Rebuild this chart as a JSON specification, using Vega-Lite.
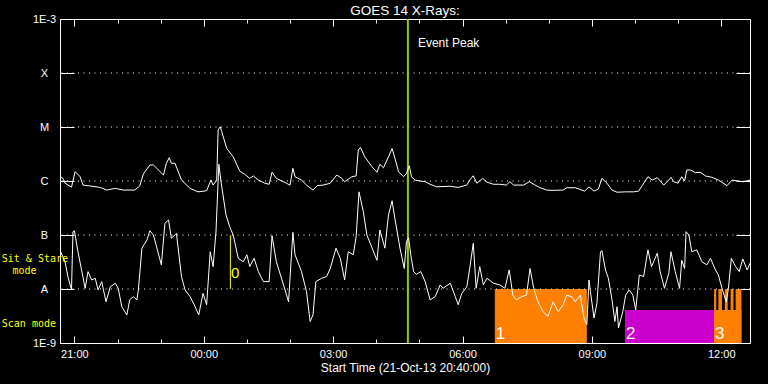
{
  "$schema": "https://vega.github.io/schema/vega-lite/v6.json",
  "width": 690,
  "height": 324,
  "autosize": "none",
  "padding": {"left": 60, "top": 19, "right": 18, "bottom": 41},
  "background": "black",
  "title": {"text": "GOES 14 X-Rays:", "color": "white", "font": "Liberation Sans", "fontSize": 13.5, "fontWeight": "normal", "anchor": "middle", "frame": "group", "offset": -4},
  "config": {
    "view": {"stroke": "white", "strokeWidth": 1}
  },
  "layer": [
    {
      "data": {"values": [
        {"t1":"2013-10-22T06:45","t2":"2013-10-22T08:53","lo":1e-9,"hi":1e-8,"c":"#ff8000"},
        {"t1":"2013-10-22T09:46","t2":"2013-10-22T11:50","lo":1e-9,"hi":4.08e-9,"c":"#cc00cc"},
        {"t1":"2013-10-22T11:50","t2":"2013-10-22T12:28","lo":1e-9,"hi":4.08e-9,"c":"#ff8000"},
        {"t1":"2013-10-22T11:50","t2":"2013-10-22T11:53","lo":1e-9,"hi":1e-8,"c":"#ff8000"},
        {"t1":"2013-10-22T11:56","t2":"2013-10-22T12:01","lo":1e-9,"hi":1e-8,"c":"#ff8000"},
        {"t1":"2013-10-22T12:05","t2":"2013-10-22T12:09","lo":1e-9,"hi":1e-8,"c":"#ff8000"},
        {"t1":"2013-10-22T12:13","t2":"2013-10-22T12:17","lo":1e-9,"hi":1e-8,"c":"#ff8000"},
        {"t1":"2013-10-22T12:20","t2":"2013-10-22T12:28","lo":1e-9,"hi":1e-8,"c":"#ff8000"}
      ]},
      "mark": {"type": "rect"},
      "encoding": {
        "x": {"field": "t1", "type": "temporal",
          "scale": {"domain": [{"year":2013,"month":10,"date":21,"hours":20,"minutes":40},{"year":2013,"month":10,"date":22,"hours":12,"minutes":40}], "nice": false},
          "axis": {"orient": "bottom", "offset": -7,
            "values": [{"year":2013,"month":10,"date":21,"hours":21},{"year":2013,"month":10,"date":21,"hours":22},{"year":2013,"month":10,"date":21,"hours":23},{"year":2013,"month":10,"date":22,"hours":0},{"year":2013,"month":10,"date":22,"hours":1},{"year":2013,"month":10,"date":22,"hours":2},{"year":2013,"month":10,"date":22,"hours":3},{"year":2013,"month":10,"date":22,"hours":4},{"year":2013,"month":10,"date":22,"hours":5},{"year":2013,"month":10,"date":22,"hours":6},{"year":2013,"month":10,"date":22,"hours":7},{"year":2013,"month":10,"date":22,"hours":8},{"year":2013,"month":10,"date":22,"hours":9},{"year":2013,"month":10,"date":22,"hours":10},{"year":2013,"month":10,"date":22,"hours":11},{"year":2013,"month":10,"date":22,"hours":12}],
            "labelExpr": "hours(datum.value) % 3 == 0 ? timeFormat(datum.value, '%H:%M') : ''",
            "tickSize": 7,
            "tickDash": {"condition": {"test": "hours(datum.value) % 3 == 0", "value": [10, 0]}, "value": [0, 3, 4, 100]},
            "tickColor": "white", "domain": false, "grid": false,
            "labelColor": "white", "labelFont": "Liberation Sans", "labelFontSize": 11, "labelPadding": 5,
            "labelFlush": false, "labelOverlap": false,
            "title": "Start Time (21-Oct-13 20:40:00)", "titleColor": "white", "titleFont": "Liberation Sans",
            "titleFontSize": 12, "titleFontWeight": "normal", "titlePadding": 3}},
        "x2": {"field": "t2"},
        "y": {"field": "lo", "type": "quantitative",
          "scale": {"type": "log", "domain": [1e-9, 1e-3], "nice": false},
          "axis": {"orient": "left", "offset": -14, "values": [1e-9, 1e-8, 1e-7, 1e-6, 1e-5, 1e-4, 1e-3],
            "labelExpr": "datum.value < 3e-9 ? '1E-9' : datum.value < 3e-8 ? 'A' : datum.value < 3e-7 ? 'B' : datum.value < 3e-6 ? 'C' : datum.value < 3e-5 ? 'M' : datum.value < 3e-4 ? 'X' : '1E-3'",
            "tickSize": 14, "tickColor": "white", "domain": false, "grid": false,
            "labelColor": "white", "labelFont": "Liberation Sans", "labelFontSize": 11,
            "labelAlign": "center", "labelBaseline": "middle", "labelPadding": 16,
            "labelFlush": false, "labelOverlap": false, "title": null}},
        "y2": {"field": "hi"},
        "color": {"field": "c", "type": "nominal", "scale": null, "legend": null}
      }
    },
    {
      "data": {"values": [{"v": 1e-8}, {"v": 1e-7}, {"v": 1e-6}, {"v": 1e-5}, {"v": 1e-4}]},
      "mark": {"type": "rule", "color": "white", "strokeWidth": 1, "strokeDash": [1, 4.5]},
      "encoding": {
        "y": {"field": "v", "type": "quantitative", "axis": null}
      }
    },
    {
      "data": {"values": [
        {"t":"2013-10-22T06:45","label":"1"},
        {"t":"2013-10-22T09:46","label":"2"},
        {"t":"2013-10-22T11:50","label":"3"}
      ]},
      "mark": {"type": "text", "color": "white", "font": "Liberation Sans", "fontSize": 17, "align": "left", "baseline": "alphabetic", "dx": 1},
      "encoding": {
        "x": {"field": "t", "type": "temporal", "axis": null},
        "y": {"datum": 1.19e-9, "type": "quantitative", "axis": null},
        "text": {"field": "label"}
      }
    },
    {
      "data": {"values": [{"t": "2013-10-22T00:37", "lo": 1e-8, "hi": 1e-7}]},
      "mark": {"type": "rule", "color": "#ffff00", "strokeWidth": 1},
      "encoding": {
        "x": {"field": "t", "type": "temporal", "axis": null},
        "y": {"field": "lo", "type": "quantitative", "axis": null},
        "y2": {"field": "hi"}
      }
    },
    {
      "data": {"values": [{"t": "2013-10-22T00:38", "v": 2.0e-8, "text": "0"}]},
      "mark": {"type": "text", "color": "#ffff00", "font": "Liberation Sans", "fontSize": 15, "align": "left", "baseline": "middle"},
      "encoding": {
        "x": {"field": "t", "type": "temporal", "axis": null},
        "y": {"field": "v", "type": "quantitative", "axis": null},
        "text": {"field": "text"}
      }
    },
    {
      "data": {"values": [{"t": "2013-10-22T04:44"}]},
      "mark": {"type": "rule", "color": "#99cc00", "strokeWidth": 2},
      "encoding": {
        "x": {"field": "t", "type": "temporal", "axis": null}
      }
    },
    {
      "data": {"values": [{"t": "2013-10-22T04:58", "v": 3.64e-4, "text": "Event Peak"}]},
      "mark": {"type": "text", "color": "white", "font": "Liberation Sans", "fontSize": 12, "align": "left", "baseline": "middle"},
      "encoding": {
        "x": {"field": "t", "type": "temporal", "axis": null},
        "y": {"field": "v", "type": "quantitative", "axis": null},
        "text": {"field": "text"}
      }
    },
    {
      "data": {"values": [
      {"t":"2013-10-21T20:41","b":"L","f":1.17e-6},{"t":"2013-10-21T20:44","b":"L","f":1.12e-6},{"t":"2013-10-21T20:47","b":"L","f":9.1e-7},{"t":"2013-10-21T20:56","b":"L","f":7.7e-7},{"t":"2013-10-21T21:01","b":"L","f":1.49e-6},{"t":"2013-10-21T21:08","b":"L","f":1.2e-6},{"t":"2013-10-21T21:12","b":"L","f":8.4e-7},{"t":"2013-10-21T21:22","b":"L","f":8.1e-7},{"t":"2013-10-21T21:36","b":"L","f":7.6e-7},{"t":"2013-10-21T21:45","b":"L","f":6.8e-7},{"t":"2013-10-21T21:57","b":"L","f":7.3e-7},{"t":"2013-10-21T22:08","b":"L","f":6.8e-7},{"t":"2013-10-21T22:24","b":"L","f":6.8e-7},{"t":"2013-10-21T22:31","b":"L","f":8.1e-7},{"t":"2013-10-21T22:36","b":"L","f":1.35e-6},{"t":"2013-10-21T22:45","b":"L","f":1.98e-6},{"t":"2013-10-21T22:50","b":"L","f":1.98e-6},{"t":"2013-10-21T23:04","b":"L","f":1.29e-6},{"t":"2013-10-21T23:08","b":"L","f":2.13e-6},{"t":"2013-10-21T23:12","b":"L","f":2.7e-6},{"t":"2013-10-21T23:15","b":"L","f":2.13e-6},{"t":"2013-10-21T23:20","b":"L","f":2.13e-6},{"t":"2013-10-21T23:29","b":"L","f":1.04e-6},{"t":"2013-10-21T23:41","b":"L","f":7.3e-7},{"t":"2013-10-21T23:52","b":"L","f":6.3e-7},
      {"t":"2013-10-22T00:04","b":"L","f":6.6e-7},{"t":"2013-10-22T00:10","b":"L","f":1.04e-6},{"t":"2013-10-22T00:13","b":"L","f":8.4e-7},{"t":"2013-10-22T00:18","b":"L","f":1.04e-6},{"t":"2013-10-22T00:20","b":"L","f":8.8e-6},{"t":"2013-10-22T00:23","b":"L","f":1.01e-5},{"t":"2013-10-22T00:25","b":"L","f":8.2e-6},{"t":"2013-10-22T00:32","b":"L","f":4.0e-6},{"t":"2013-10-22T00:41","b":"L","f":2.8e-6},{"t":"2013-10-22T00:50","b":"L","f":1.53e-6},{"t":"2013-10-22T00:57","b":"L","f":1.33e-6},{"t":"2013-10-22T01:04","b":"L","f":1.12e-6},{"t":"2013-10-22T01:09","b":"L","f":1.24e-6},{"t":"2013-10-22T01:16","b":"L","f":1.04e-6},{"t":"2013-10-22T01:25","b":"L","f":9.1e-7},{"t":"2013-10-22T01:31","b":"L","f":8.7e-7},{"t":"2013-10-22T01:35","b":"L","f":1.45e-6},{"t":"2013-10-22T01:41","b":"L","f":1.12e-6},{"t":"2013-10-22T01:55","b":"L","f":9.1e-7},{"t":"2013-10-22T02:00","b":"L","f":8.4e-7},{"t":"2013-10-22T02:04","b":"L","f":1.72e-6},{"t":"2013-10-22T02:07","b":"L","f":1.2e-6},{"t":"2013-10-22T02:16","b":"L","f":1.04e-6},{"t":"2013-10-22T02:23","b":"L","f":8.4e-7},{"t":"2013-10-22T02:32","b":"L","f":6.8e-7},{"t":"2013-10-22T02:38","b":"L","f":8.2e-7},{"t":"2013-10-22T02:46","b":"L","f":8.4e-7},{"t":"2013-10-22T02:56","b":"L","f":9.1e-7},{"t":"2013-10-22T03:05","b":"L","f":1.29e-6},{"t":"2013-10-22T03:12","b":"L","f":1.12e-6},{"t":"2013-10-22T03:16","b":"L","f":9.7e-7},{"t":"2013-10-22T03:26","b":"L","f":1.2e-6},{"t":"2013-10-22T03:32","b":"L","f":1.24e-6},{"t":"2013-10-22T03:35","b":"L","f":3.75e-6},{"t":"2013-10-22T03:38","b":"L","f":4.2e-6},{"t":"2013-10-22T03:44","b":"L","f":2.8e-6},{"t":"2013-10-22T03:54","b":"L","f":1.84e-6},{"t":"2013-10-22T04:01","b":"L","f":1.45e-6},{"t":"2013-10-22T04:05","b":"L","f":2.04e-6},{"t":"2013-10-22T04:10","b":"L","f":1.76e-6},{"t":"2013-10-22T04:17","b":"L","f":2.8e-6},{"t":"2013-10-22T04:22","b":"L","f":4.0e-6},{"t":"2013-10-22T04:26","b":"L","f":2.63e-6},{"t":"2013-10-22T04:31","b":"L","f":1.49e-6},{"t":"2013-10-22T04:38","b":"L","f":1.2e-6},{"t":"2013-10-22T04:42","b":"L","f":1.39e-6},{"t":"2013-10-22T04:46","b":"L","f":1.92e-6},{"t":"2013-10-22T04:49","b":"L","f":1.2e-6},{"t":"2013-10-22T04:54","b":"L","f":1.04e-6},{"t":"2013-10-22T05:01","b":"L","f":1.0e-6},{"t":"2013-10-22T05:08","b":"L","f":9.7e-7},{"t":"2013-10-22T05:15","b":"L","f":8.7e-7},{"t":"2013-10-22T05:24","b":"L","f":7.8e-7},{"t":"2013-10-22T05:43","b":"L","f":8.0e-7},{"t":"2013-10-22T05:54","b":"L","f":7.6e-7},{"t":"2013-10-22T06:06","b":"L","f":8.4e-7},{"t":"2013-10-22T06:10","b":"L","f":1.04e-6},{"t":"2013-10-22T06:15","b":"L","f":1.25e-6},{"t":"2013-10-22T06:20","b":"L","f":9.1e-7},{"t":"2013-10-22T06:28","b":"L","f":1.12e-6},{"t":"2013-10-22T06:34","b":"L","f":9.5e-7},{"t":"2013-10-22T06:43","b":"L","f":8.7e-7},{"t":"2013-10-22T06:52","b":"L","f":8.7e-7},{"t":"2013-10-22T07:01","b":"L","f":8.4e-7},{"t":"2013-10-22T07:06","b":"L","f":9.7e-7},{"t":"2013-10-22T07:11","b":"L","f":8.4e-7},{"t":"2013-10-22T07:25","b":"L","f":8.4e-7},{"t":"2013-10-22T07:33","b":"L","f":9.7e-7},{"t":"2013-10-22T07:41","b":"L","f":8.4e-7},{"t":"2013-10-22T07:48","b":"L","f":7.5e-7},{"t":"2013-10-22T07:57","b":"L","f":6.8e-7},{"t":"2013-10-22T08:06","b":"L","f":6.7e-7},{"t":"2013-10-22T08:20","b":"L","f":6.8e-7},{"t":"2013-10-22T08:25","b":"L","f":7.5e-7},{"t":"2013-10-22T08:37","b":"L","f":7.5e-7},{"t":"2013-10-22T08:42","b":"L","f":7.1e-7},{"t":"2013-10-22T08:50","b":"L","f":6.5e-7},{"t":"2013-10-22T08:56","b":"L","f":7.8e-7},{"t":"2013-10-22T09:03","b":"L","f":6.5e-7},{"t":"2013-10-22T09:09","b":"L","f":7.1e-7},{"t":"2013-10-22T09:14","b":"L","f":1.12e-6},{"t":"2013-10-22T09:21","b":"L","f":9.1e-7},{"t":"2013-10-22T09:28","b":"L","f":6.8e-7},{"t":"2013-10-22T09:35","b":"L","f":6.2e-7},{"t":"2013-10-22T09:47","b":"L","f":6.3e-7},{"t":"2013-10-22T09:58","b":"L","f":6.3e-7},{"t":"2013-10-22T10:05","b":"L","f":6.5e-7},{"t":"2013-10-22T10:10","b":"L","f":8.2e-7},{"t":"2013-10-22T10:18","b":"L","f":1.2e-6},{"t":"2013-10-22T10:24","b":"L","f":1.04e-6},{"t":"2013-10-22T10:31","b":"L","f":1.15e-6},{"t":"2013-10-22T10:40","b":"L","f":8.4e-7},{"t":"2013-10-22T10:47","b":"L","f":1.04e-6},{"t":"2013-10-22T10:50","b":"L","f":1.17e-6},{"t":"2013-10-22T10:54","b":"L","f":9.7e-7},{"t":"2013-10-22T11:00","b":"L","f":9.1e-7},{"t":"2013-10-22T11:05","b":"L","f":1.2e-6},{"t":"2013-10-22T11:09","b":"L","f":1.0e-6},{"t":"2013-10-22T11:12","b":"L","f":1.6e-6},{"t":"2013-10-22T11:17","b":"L","f":1.6e-6},{"t":"2013-10-22T11:24","b":"L","f":1.43e-6},{"t":"2013-10-22T11:31","b":"L","f":1.45e-6},{"t":"2013-10-22T11:38","b":"L","f":1.24e-6},{"t":"2013-10-22T11:47","b":"L","f":1.17e-6},{"t":"2013-10-22T11:56","b":"L","f":1.04e-6},{"t":"2013-10-22T12:08","b":"L","f":8.2e-7},{"t":"2013-10-22T12:15","b":"L","f":1.04e-6},{"t":"2013-10-22T12:24","b":"L","f":1.0e-6},{"t":"2013-10-22T12:31","b":"L","f":9.7e-7},{"t":"2013-10-22T12:40","b":"L","f":1.04e-6},
      {"t":"2013-10-21T20:41","b":"S","f":4.9e-8},{"t":"2013-10-21T20:47","b":"S","f":3.2e-8},{"t":"2013-10-21T20:51","b":"S","f":1.7e-8},{"t":"2013-10-21T20:56","b":"S","f":9.6e-9},{"t":"2013-10-21T20:58","b":"S","f":1.15e-7},{"t":"2013-10-21T21:00","b":"S","f":1.2e-7},{"t":"2013-10-21T21:05","b":"S","f":4.9e-8},{"t":"2013-10-21T21:10","b":"S","f":2.25e-8},{"t":"2013-10-21T21:15","b":"S","f":1.03e-8},{"t":"2013-10-21T21:19","b":"S","f":2.1e-8},{"t":"2013-10-21T21:24","b":"S","f":1.47e-8},{"t":"2013-10-21T21:29","b":"S","f":1.58e-8},{"t":"2013-10-21T21:33","b":"S","f":9.6e-9},{"t":"2013-10-21T21:38","b":"S","f":1.37e-8},{"t":"2013-10-21T21:44","b":"S","f":5.8e-9},{"t":"2013-10-21T21:50","b":"S","f":1.1e-8},{"t":"2013-10-21T21:57","b":"S","f":1.28e-8},{"t":"2013-10-21T22:01","b":"S","f":1.03e-8},{"t":"2013-10-21T22:06","b":"S","f":4.7e-9},{"t":"2013-10-21T22:13","b":"S","f":3.3e-9},{"t":"2013-10-21T22:17","b":"S","f":6.3e-9},{"t":"2013-10-21T22:22","b":"S","f":7.2e-9},{"t":"2013-10-21T22:27","b":"S","f":6.3e-9},{"t":"2013-10-21T22:29","b":"S","f":9.6e-9},{"t":"2013-10-21T22:34","b":"S","f":5.7e-8},{"t":"2013-10-21T22:41","b":"S","f":8.1e-8},{"t":"2013-10-21T22:45","b":"S","f":1.2e-7},{"t":"2013-10-21T22:50","b":"S","f":1.0e-7},{"t":"2013-10-21T23:01","b":"S","f":2.8e-8},{"t":"2013-10-21T23:06","b":"S","f":1.65e-7},{"t":"2013-10-21T23:11","b":"S","f":1.9e-7},{"t":"2013-10-21T23:15","b":"S","f":8.7e-8},{"t":"2013-10-21T23:22","b":"S","f":1.07e-7},{"t":"2013-10-21T23:29","b":"S","f":1.7e-8},{"t":"2013-10-21T23:34","b":"S","f":9.6e-9},{"t":"2013-10-21T23:41","b":"S","f":7.2e-9},{"t":"2013-10-21T23:48","b":"S","f":4.7e-9},{"t":"2013-10-21T23:53","b":"S","f":3.3e-9},{"t":"2013-10-21T23:59","b":"S","f":8.3e-9},
      {"t":"2013-10-22T00:04","b":"S","f":5.1e-9},{"t":"2013-10-22T00:09","b":"S","f":4.9e-8},{"t":"2013-10-22T00:13","b":"S","f":2.6e-8},{"t":"2013-10-22T00:17","b":"S","f":1.14e-7},{"t":"2013-10-22T00:21","b":"S","f":2.04e-6},{"t":"2013-10-22T00:24","b":"S","f":9.7e-7},{"t":"2013-10-22T00:31","b":"S","f":2.35e-7},{"t":"2013-10-22T00:36","b":"S","f":1.43e-7},{"t":"2013-10-22T00:41","b":"S","f":1.0e-7},{"t":"2013-10-22T00:48","b":"S","f":3.7e-8},{"t":"2013-10-22T00:55","b":"S","f":3.2e-8},{"t":"2013-10-22T01:00","b":"S","f":4.3e-8},{"t":"2013-10-22T01:04","b":"S","f":2.6e-8},{"t":"2013-10-22T01:10","b":"S","f":3.7e-8},{"t":"2013-10-22T01:16","b":"S","f":2.1e-8},{"t":"2013-10-22T01:23","b":"S","f":1.37e-8},{"t":"2013-10-22T01:31","b":"S","f":1.37e-8},{"t":"2013-10-22T01:35","b":"S","f":9.7e-8},{"t":"2013-10-22T01:41","b":"S","f":3.2e-8},{"t":"2013-10-22T01:51","b":"S","f":1.19e-8},{"t":"2013-10-22T01:58","b":"S","f":5.8e-9},{"t":"2013-10-22T02:04","b":"S","f":1.12e-7},{"t":"2013-10-22T02:07","b":"S","f":4.3e-8},{"t":"2013-10-22T02:16","b":"S","f":2.1e-8},{"t":"2013-10-22T02:23","b":"S","f":8.9e-9},{"t":"2013-10-22T02:28","b":"S","f":2.5e-9},{"t":"2013-10-22T02:32","b":"S","f":3.3e-9},{"t":"2013-10-22T02:36","b":"S","f":1.37e-8},{"t":"2013-10-22T02:44","b":"S","f":1.58e-8},{"t":"2013-10-22T02:51","b":"S","f":1.7e-8},{"t":"2013-10-22T02:56","b":"S","f":2.4e-8},{"t":"2013-10-22T03:04","b":"S","f":5.7e-8},{"t":"2013-10-22T03:10","b":"S","f":3.7e-8},{"t":"2013-10-22T03:16","b":"S","f":1.47e-8},{"t":"2013-10-22T03:21","b":"S","f":4.9e-8},{"t":"2013-10-22T03:28","b":"S","f":4.3e-8},{"t":"2013-10-22T03:32","b":"S","f":9.3e-8},{"t":"2013-10-22T03:36","b":"S","f":6.3e-7},{"t":"2013-10-22T03:42","b":"S","f":2.7e-7},{"t":"2013-10-22T03:47","b":"S","f":1.0e-7},{"t":"2013-10-22T04:01","b":"S","f":3.4e-8},{"t":"2013-10-22T04:05","b":"S","f":1.24e-7},{"t":"2013-10-22T04:12","b":"S","f":5.7e-8},{"t":"2013-10-22T04:17","b":"S","f":2.35e-7},{"t":"2013-10-22T04:22","b":"S","f":4.3e-7},{"t":"2013-10-22T04:26","b":"S","f":2.0e-7},{"t":"2013-10-22T04:33","b":"S","f":5.7e-8},{"t":"2013-10-22T04:39","b":"S","f":2.4e-8},{"t":"2013-10-22T04:42","b":"S","f":7.5e-8},{"t":"2013-10-22T04:45","b":"S","f":8.9e-8},{"t":"2013-10-22T04:48","b":"S","f":4.3e-8},{"t":"2013-10-22T04:52","b":"S","f":2.1e-8},{"t":"2013-10-22T04:56","b":"S","f":1.87e-8},{"t":"2013-10-22T05:02","b":"S","f":2.1e-8},{"t":"2013-10-22T05:08","b":"S","f":1.37e-8},{"t":"2013-10-22T05:15","b":"S","f":6.3e-9},{"t":"2013-10-22T05:22","b":"S","f":7.2e-9},{"t":"2013-10-22T05:29","b":"S","f":1.19e-8},{"t":"2013-10-22T05:33","b":"S","f":1.03e-8},{"t":"2013-10-22T05:43","b":"S","f":1.28e-8},{"t":"2013-10-22T05:50","b":"S","f":7.2e-9},{"t":"2013-10-22T05:54","b":"S","f":5.1e-9},{"t":"2013-10-22T05:59","b":"S","f":8.3e-9},{"t":"2013-10-22T06:06","b":"S","f":1.1e-8},{"t":"2013-10-22T06:10","b":"S","f":2.4e-8},{"t":"2013-10-22T06:15","b":"S","f":7.0e-8},{"t":"2013-10-22T06:19","b":"S","f":1.03e-8},{"t":"2013-10-22T06:24","b":"S","f":2.6e-8},{"t":"2013-10-22T06:29","b":"S","f":1.19e-8},{"t":"2013-10-22T06:34","b":"S","f":1.58e-8},{"t":"2013-10-22T06:43","b":"S","f":1.28e-8},{"t":"2013-10-22T06:52","b":"S","f":1.19e-8},{"t":"2013-10-22T06:59","b":"S","f":1.03e-8},{"t":"2013-10-22T07:05","b":"S","f":2.25e-8},{"t":"2013-10-22T07:10","b":"S","f":7.7e-9},{"t":"2013-10-22T07:15","b":"S","f":6.3e-9},{"t":"2013-10-22T07:22","b":"S","f":7.2e-9},{"t":"2013-10-22T07:29","b":"S","f":7.7e-9},{"t":"2013-10-22T07:34","b":"S","f":2.4e-8},{"t":"2013-10-22T07:39","b":"S","f":1.03e-8},{"t":"2013-10-22T07:45","b":"S","f":5.8e-9},{"t":"2013-10-22T07:52","b":"S","f":3.8e-9},{"t":"2013-10-22T07:59","b":"S","f":3.1e-9},{"t":"2013-10-22T08:06","b":"S","f":5.8e-9},{"t":"2013-10-22T08:13","b":"S","f":3.8e-9},{"t":"2013-10-22T08:20","b":"S","f":5.1e-9},{"t":"2013-10-22T08:25","b":"S","f":7.7e-9},{"t":"2013-10-22T08:32","b":"S","f":7.2e-9},{"t":"2013-10-22T08:37","b":"S","f":5.8e-9},{"t":"2013-10-22T08:44","b":"S","f":7.7e-9},{"t":"2013-10-22T08:49","b":"S","f":2.9e-9},{"t":"2013-10-22T08:53","b":"S","f":2.2e-9},{"t":"2013-10-22T08:56","b":"S","f":1.47e-8},{"t":"2013-10-22T08:58","b":"S","f":8.9e-9},{"t":"2013-10-22T09:03","b":"S","f":2.9e-9},{"t":"2013-10-22T09:07","b":"S","f":5.4e-9},{"t":"2013-10-22T09:12","b":"S","f":4.9e-8},{"t":"2013-10-22T09:14","b":"S","f":5.1e-8},{"t":"2013-10-22T09:19","b":"S","f":2.25e-8},{"t":"2013-10-22T09:23","b":"S","f":1.58e-8},{"t":"2013-10-22T09:28","b":"S","f":6.3e-9},{"t":"2013-10-22T09:32","b":"S","f":2.5e-9},{"t":"2013-10-22T09:35","b":"S","f":4.7e-9},{"t":"2013-10-22T09:37","b":"S","f":1.9e-9},{"t":"2013-10-22T09:43","b":"S","f":3.8e-9},{"t":"2013-10-22T09:47","b":"S","f":7.7e-9},{"t":"2013-10-22T09:52","b":"S","f":9.6e-9},{"t":"2013-10-22T09:57","b":"S","f":7.7e-9},{"t":"2013-10-22T10:01","b":"S","f":4.1e-9},{"t":"2013-10-22T10:06","b":"S","f":1.82e-8},{"t":"2013-10-22T10:12","b":"S","f":1.7e-8},{"t":"2013-10-22T10:18","b":"S","f":5.3e-8},{"t":"2013-10-22T10:23","b":"S","f":2.6e-8},{"t":"2013-10-22T10:31","b":"S","f":4.6e-8},{"t":"2013-10-22T10:35","b":"S","f":2.1e-8},{"t":"2013-10-22T10:41","b":"S","f":1.03e-8},{"t":"2013-10-22T10:47","b":"S","f":1.95e-8},{"t":"2013-10-22T10:50","b":"S","f":4.9e-8},{"t":"2013-10-22T10:56","b":"S","f":2.1e-8},{"t":"2013-10-22T11:02","b":"S","f":1.03e-8},{"t":"2013-10-22T11:05","b":"S","f":3.4e-8},{"t":"2013-10-22T11:09","b":"S","f":2.4e-8},{"t":"2013-10-22T11:11","b":"S","f":1.15e-7},{"t":"2013-10-22T11:15","b":"S","f":1.0e-7},{"t":"2013-10-22T11:19","b":"S","f":4.9e-8},{"t":"2013-10-22T11:26","b":"S","f":5.3e-8},{"t":"2013-10-22T11:33","b":"S","f":3.2e-8},{"t":"2013-10-22T11:40","b":"S","f":2.8e-8},{"t":"2013-10-22T11:45","b":"S","f":3.7e-8},{"t":"2013-10-22T11:52","b":"S","f":2.25e-8},{"t":"2013-10-22T11:56","b":"S","f":1.82e-8},{"t":"2013-10-22T12:01","b":"S","f":1.03e-8},{"t":"2013-10-22T12:07","b":"S","f":5.8e-9},{"t":"2013-10-22T12:10","b":"S","f":1.03e-8},{"t":"2013-10-22T12:14","b":"S","f":3.7e-8},{"t":"2013-10-22T12:20","b":"S","f":2.6e-8},{"t":"2013-10-22T12:25","b":"S","f":2.1e-8},{"t":"2013-10-22T12:30","b":"S","f":3.6e-8},{"t":"2013-10-22T12:36","b":"S","f":2.25e-8},{"t":"2013-10-22T12:40","b":"S","f":3.0e-8}
      ]},
      "mark": {"type": "line", "color": "white", "strokeWidth": 1},
      "encoding": {
        "x": {"field": "t", "type": "temporal",
          "axis": {"orient": "top", "offset": -7,
            "values": [{"year":2013,"month":10,"date":21,"hours":21},{"year":2013,"month":10,"date":21,"hours":22},{"year":2013,"month":10,"date":21,"hours":23},{"year":2013,"month":10,"date":22,"hours":0},{"year":2013,"month":10,"date":22,"hours":1},{"year":2013,"month":10,"date":22,"hours":2},{"year":2013,"month":10,"date":22,"hours":3},{"year":2013,"month":10,"date":22,"hours":4},{"year":2013,"month":10,"date":22,"hours":5},{"year":2013,"month":10,"date":22,"hours":6},{"year":2013,"month":10,"date":22,"hours":7},{"year":2013,"month":10,"date":22,"hours":8},{"year":2013,"month":10,"date":22,"hours":9},{"year":2013,"month":10,"date":22,"hours":10},{"year":2013,"month":10,"date":22,"hours":11},{"year":2013,"month":10,"date":22,"hours":12}],
            "tickSize": 7,
            "tickDash": {"condition": {"test": "hours(datum.value) % 3 == 0", "value": [10, 0]}, "value": [0, 3, 4, 100]},
            "tickColor": "white", "labels": false, "domain": false, "grid": false, "title": null}},
        "y": {"field": "f", "type": "quantitative",
          "axis": {"orient": "right", "offset": -14, "values": [1e-9, 1e-8, 1e-7, 1e-6, 1e-5, 1e-4, 1e-3],
            "tickSize": 14, "tickColor": "white", "labels": false, "domain": false, "grid": false, "title": null}},
        "detail": {"field": "b", "type": "nominal"}
      }
    },
    {
      "data": {"values": [
        {"t":"2013-10-21T19:19","v":3.67e-8,"text":"Sit & Stare"},
        {"t":"2013-10-21T19:34","v":2.15e-8,"text":"mode"},
        {"t":"2013-10-21T19:19","v":2.25e-9,"text":"Scan mode"}
      ]},
      "mark": {"type": "text", "color": "#ffff00", "font": "DejaVu Sans Mono", "fontSize": 10, "align": "left", "baseline": "middle"},
      "encoding": {
        "x": {"field": "t", "type": "temporal", "axis": null},
        "y": {"field": "v", "type": "quantitative", "axis": null},
        "text": {"field": "text"}
      }
    }
  ],
  "resolve": {"axis": {"x": "independent", "y": "independent"}}
}
